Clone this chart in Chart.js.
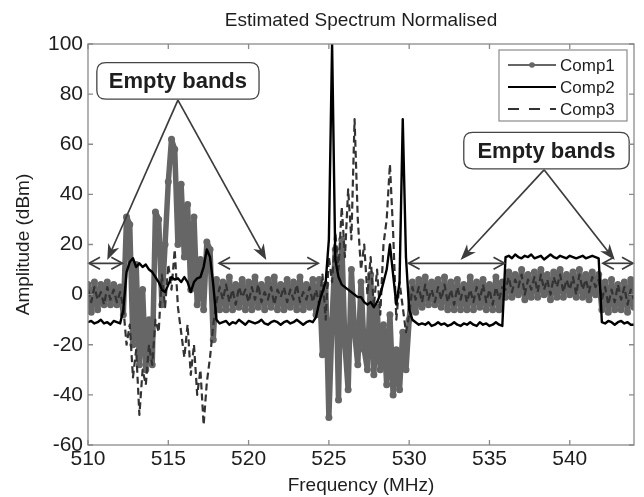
<!DOCTYPE html>
<html>
<head>
<meta charset="utf-8">
<script src="https://cdn.jsdelivr.net/npm/chart.js@4.4.1/dist/chart.umd.min.js"></script>
<style>
html,body{margin:0;padding:0;background:#fff;}
canvas{display:block;}
</style>
</head>
<body>
<canvas id="c" width="644" height="497"></canvas>
<script>
// ---------------- data ----------------
const freq = [
510.0,510.2,510.4,510.6,510.8,511.0,511.2,511.4,511.6,511.8,
512.0,512.2,512.4,512.6,512.8,513.0,513.2,513.4,513.6,513.8,
514.0,514.2,514.4,514.6,514.8,515.0,515.2,515.4,515.6,515.8,
516.0,516.2,516.4,516.6,516.8,517.0,517.2,517.4,517.6,517.8,
518.0,518.2,518.4,518.6,518.8,519.0,519.2,519.4,519.6,519.8,
520.0,520.2,520.4,520.6,520.8,521.0,521.2,521.4,521.6,521.8,
522.0,522.2,522.4,522.6,522.8,523.0,523.2,523.4,523.6,523.8,
524.0,524.2,524.4,524.6,524.8,525.0,525.2,525.4,525.6,525.8,
526.0,526.2,526.4,526.6,526.8,527.0,527.2,527.4,527.6,527.8,
528.0,528.2,528.4,528.6,528.8,529.0,529.2,529.4,529.6,529.8,
530.0,530.2,530.4,530.6,530.8,531.0,531.2,531.4,531.6,531.8,
532.0,532.2,532.4,532.6,532.8,533.0,533.2,533.4,533.6,533.8,
534.0,534.2,534.4,534.6,534.8,535.0,535.2,535.4,535.6,535.8,
536.0,536.2,536.4,536.6,536.8,537.0,537.2,537.4,537.6,537.8,
538.0,538.2,538.4,538.6,538.8,539.0,539.2,539.4,539.6,539.8,
540.0,540.2,540.4,540.6,540.8,541.0,541.2,541.4,541.6,541.8,
542.0,542.2,542.4,542.6,542.8,543.0,543.2,543.4,543.6,543.8,
544.0];

const comp1 = [
4,-7,5,-6,4,-4,5,-4,4,-4,
3,-8,31,28,-20,12,-28,2,-30,-10,
-28,33,30,-4,20,45,62,58,20,44,
15,36,2,31,-4,14,-6,21,18,-18,
6,-6,5,-6,7,-6,4,-5,6,-6,
5,-6,7,-5,4,-6,6,-5,7,-6,
4,-6,6,-5,5,-6,7,-6,4,-5,
6,-8,6,-24,4,-49,-10,18,-42,22,
-20,-38,10,-15,-28,5,-22,-30,8,-32,
-5,-30,-12,-36,-8,-40,-22,-38,-15,-30,
-10,5,-7,6,-5,7,-4,5,-4,6,
-5,7,-6,5,-6,6,-6,4,-6,7,
-6,5,-5,6,-6,4,-6,7,-6,5,
-1,9,-1,8,0,10,-2,8,-1,9,
-1,10,0,8,-2,9,-1,10,-1,8,
0,9,-1,10,-1,8,-2,9,0,8,
-6,5,-7,6,-6,4,-6,5,-7,6,
-5];

const comp2 = [
-11,-10.5,-11.5,-11,-10,-11.5,-11,-12,-10.5,-11,
-11.5,-6,9,13,14.5,11,12.5,11,12,10,
9,7,5,2,1,4,7,6,6.5,5,
7,5,1,5,6.5,7,11,18,15,4,
-10,-11.5,-11,-10.5,-12,-11,-11.5,-10,-11,-12,
-10.5,-11,-11.5,-11,-10,-11.5,-12,-11,-10.5,-11,
-12,-11,-10.5,-11.5,-11,-10,-11,-12,-11,-10.5,
-11,-9,-3,1,5,22,100,14,7,4,
3,2,1,0,-1,-1,-3,-4,-3,-5,
-3,0,5,10,20,8,-4,5,70,15,
-6,-10,-11,-12,-11.5,-12,-11,-12.5,-12,-11,
-12,-11.5,-12.5,-12,-11,-12,-12.5,-11.5,-12,-11,
-12,-12.5,-11,-12,-11.5,-12.5,-12,-11,-12,-12.5,
15,15.5,14.5,16,15,14.5,15.5,15,16,14.5,
15,15.5,14,15,16,15,14.5,15.5,15,14.5,
15.5,15,14.5,15,15.5,14.5,15,15.5,15,14.5,
-11,-11.5,-10.5,-11,-12,-11,-10.5,-11.5,-11,-12,
-12];

const comp3 = [
2,-3,3,-2,1,-4,3,-2,2,-3,
1,-5,-20,-12,-33,-22,-48,-30,-36,-20,
-28,-10,-15,8,-5,12,2,18,-5,-15,
-25,-12,-32,-20,-40,-30,-52,-35,-25,-12,
-3,3,-2,4,-3,2,-4,3,-1,2,
-3,3,-2,4,-3,1,-2,3,-4,2,
-1,3,-3,2,-2,4,-3,1,-2,3,
-3,2,-4,8,-10,15,5,25,10,35,
15,42,22,70,30,10,20,0,15,-5,
10,-8,20,30,52,25,-10,5,-5,-15,
-8,3,-2,3,-3,4,-2,2,-3,3,
-2,4,-3,2,-4,3,-2,3,-3,2,
-3,3,-2,4,-3,2,-4,3,-2,3,
2,7,1,6,3,8,0,6,2,7,
1,8,2,6,0,7,3,8,1,6,
2,7,0,8,2,6,1,7,3,6,
-2,3,-4,2,-3,4,-2,3,-4,2,
-2];

const seriesNames = ['Comp1','Comp2','Comp3'];
const xTicks = [510,515,520,525,530,535,540];
const yTicks = [-60,-40,-20,0,20,40,60,80,100];

// annotation content (data coordinates)
const emptyBands = [[510,512.2],[518.1,524.4],[529.9,536.0],[542.0,544.0]];
const bandLabel = 'Empty bands';

// ---------------- styling / layout ----------------
const FONT = '"Liberation Sans", Arial, Helvetica, sans-serif';
const arrowLevel = 12.5;
const labelBoxes = [
  {f0:510.55, f1:520.65, v0:92.6, v1:78.0, apex:[515.6,77.6], tips:[[511.2,13.8],[521.1,13.8]]},
  {f0:533.4,  f1:543.7,  v0:64.7, v1:50.2, apex:[538.4,49.8], tips:[[533.2,13.8],[542.8,13.8]]}
];

const pts = arr => freq.map((f,i)=>({x:f, y:arr[i]}));

function roundRect(ctx,x,y,w,h,r){
  ctx.beginPath();
  ctx.moveTo(x+r,y);
  ctx.lineTo(x+w-r,y); ctx.quadraticCurveTo(x+w,y,x+w,y+r);
  ctx.lineTo(x+w,y+h-r); ctx.quadraticCurveTo(x+w,y+h,x+w-r,y+h);
  ctx.lineTo(x+r,y+h); ctx.quadraticCurveTo(x,y+h,x,y+h-r);
  ctx.lineTo(x,y+r); ctx.quadraticCurveTo(x,y,x+r,y);
  ctx.closePath();
}
function filledArrow(ctx,x0,y0,x1,y1){
  const ang = Math.atan2(y1-y0,x1-x0), L=16, W=6;
  ctx.beginPath(); ctx.moveTo(x0,y0); ctx.lineTo(x1-Math.cos(ang)*L*0.6,y1-Math.sin(ang)*L*0.6); ctx.stroke();
  ctx.beginPath();
  ctx.moveTo(x1,y1);
  ctx.lineTo(x1-Math.cos(ang)*L - Math.sin(ang)*W, y1-Math.sin(ang)*L + Math.cos(ang)*W);
  ctx.lineTo(x1-Math.cos(ang)*L*0.7, y1-Math.sin(ang)*L*0.7);
  ctx.lineTo(x1-Math.cos(ang)*L + Math.sin(ang)*W, y1-Math.sin(ang)*L - Math.cos(ang)*W);
  ctx.closePath(); ctx.fill();
}
function openHead(ctx,xt,y,dir){
  ctx.beginPath();
  ctx.moveTo(xt+dir*11,y-6); ctx.lineTo(xt,y); ctx.lineTo(xt+dir*11,y+6);
  ctx.stroke();
}

const decor = {
  id:'decor',
  afterDatasetsDraw(chart){
    const {ctx, scales:{x,y}} = chart;
    const X=v=>x.getPixelForValue(v), Y=v=>y.getPixelForValue(v);
    ctx.save();
    ctx.strokeStyle='#3c3c3c'; ctx.fillStyle='#3c3c3c'; ctx.lineWidth=1.7;
    emptyBands.forEach(([f0,f1])=>{
      const x0=X(f0)+1, x1=X(f1)-1, yy=Y(arrowLevel);
      ctx.beginPath(); ctx.moveTo(x0,yy); ctx.lineTo(x1,yy); ctx.stroke();
      openHead(ctx,x0,yy,1); openHead(ctx,x1,yy,-1);
    });
    labelBoxes.forEach(b=>{
      b.tips.forEach(t=>filledArrow(ctx,X(b.apex[0]),Y(b.apex[1]),X(t[0]),Y(t[1])));
      const bx=X(b.f0), by=Y(b.v0), bw=X(b.f1)-bx, bh=Y(b.v1)-by;
      roundRect(ctx,bx,by,bw,bh,9);
      ctx.fillStyle='#fff'; ctx.fill();
      ctx.strokeStyle='#444'; ctx.lineWidth=1.3; ctx.stroke();
      ctx.fillStyle='#1e1e1e';
      ctx.font='bold 22px '+FONT;
      ctx.textAlign='center'; ctx.textBaseline='middle';
      ctx.fillText(bandLabel, bx+bw/2, by+bh/2+1);
      ctx.strokeStyle='#3c3c3c'; ctx.fillStyle='#3c3c3c'; ctx.lineWidth=1.7;
    });
    ctx.restore();
  },
  afterDraw(chart){
    const {ctx, chartArea:a, scales:{x,y}} = chart;
    ctx.save();
    ctx.strokeStyle='#8a8a8a'; ctx.lineWidth=1.3;
    ctx.strokeRect(a.left,a.top,a.right-a.left,a.bottom-a.top);
    ctx.beginPath();
    xTicks.forEach(v=>{const px=x.getPixelForValue(v);
      ctx.moveTo(px,a.bottom); ctx.lineTo(px,a.bottom-5);
      ctx.moveTo(px,a.top); ctx.lineTo(px,a.top+5);});
    yTicks.forEach(v=>{const py=y.getPixelForValue(v);
      ctx.moveTo(a.left,py); ctx.lineTo(a.left+5,py);
      ctx.moveTo(a.right,py); ctx.lineTo(a.right-5,py);});
    ctx.stroke();
    ctx.fillStyle='#1e1e1e'; ctx.font='19px '+FONT;
    ctx.textAlign='center'; ctx.textBaseline='middle';
    ctx.fillText('Estimated Spectrum Normalised',(a.left+a.right)/2,21);
    const lx=499, ly=50, lw=128, lh=71;
    ctx.fillStyle='#fff'; ctx.fillRect(lx,ly,lw,lh);
    ctx.strokeStyle='#8a8a8a'; ctx.lineWidth=1.2; ctx.strokeRect(lx,ly,lw,lh);
    const rows=[65,87,109];
    ctx.font='17px '+FONT; ctx.textAlign='left';
    chart.data.datasets.forEach((ds,i)=>{
      const yy=rows[i];
      ctx.save();
      ctx.strokeStyle=ds.borderColor; ctx.lineWidth=2;
      ctx.setLineDash(ds.legendDash||[]);
      ctx.beginPath(); ctx.moveTo(508,yy); ctx.lineTo(556,yy); ctx.stroke();
      ctx.restore();
      if(ds.pointRadius>0){ctx.fillStyle=ds.pointBackgroundColor; ctx.beginPath(); ctx.arc(532,yy,2.8,0,Math.PI*2); ctx.fill();}
      ctx.fillStyle='#1e1e1e'; ctx.fillText(ds.label,560,yy+1);
    });
    ctx.restore();
  }
};

new Chart(document.getElementById('c'),{
  type:'line',
  data:{datasets:[
    {label:seriesNames[0], data:pts(comp1), borderColor:'#666666', backgroundColor:'#666666', borderWidth:5.5,
     borderJoinStyle:'round', borderCapStyle:'round',
     pointRadius:3.5, pointBackgroundColor:'#666666', pointBorderWidth:0, order:3},
    {label:seriesNames[1], data:pts(comp2), borderColor:'#000000', backgroundColor:'#000', borderWidth:2.4,
     borderJoinStyle:'round', pointRadius:0, order:1},
    {label:seriesNames[2], data:pts(comp3), borderColor:'#333333', backgroundColor:'#333333', borderWidth:2.2,
     borderJoinStyle:'round', borderDash:[7,4], legendDash:[11,10], pointRadius:0, order:2}
  ]},
  options:{
    responsive:false, animation:false, devicePixelRatio:1,
    layout:{padding:{top:44,right:10,left:0,bottom:0}},
    plugins:{legend:{display:false}, tooltip:{enabled:false}, title:{display:false}},
    elements:{line:{tension:0}},
    scales:{
      x:{type:'linear', min:510, max:544,
         afterBuildTicks:s=>{s.ticks=xTicks.map(v=>({value:v}));},
         afterFit:s=>{s.height=52;},
         grid:{display:false, drawTicks:false}, border:{display:false},
         ticks:{color:'#1e1e1e', font:{family:FONT,size:21}, padding:2, maxRotation:0, autoSkip:false},
         title:{display:true, text:'Frequency (MHz)', color:'#1e1e1e', font:{family:FONT,size:19}, padding:{top:0,bottom:0}}},
      y:{type:'linear', min:-60, max:100,
         afterBuildTicks:s=>{s.ticks=yTicks.map(v=>({value:v}));},
         afterFit:s=>{s.width=88;},
         grid:{display:false, drawTicks:false}, border:{display:false},
         ticks:{color:'#1e1e1e', font:{family:FONT,size:21}, padding:5, autoSkip:false},
         title:{display:true, text:'Amplitude (dBm)', color:'#1e1e1e', font:{family:FONT,size:19}, padding:{top:12,bottom:0}}}
    }
  },
  plugins:[decor]
});
</script>
</body>
</html>
